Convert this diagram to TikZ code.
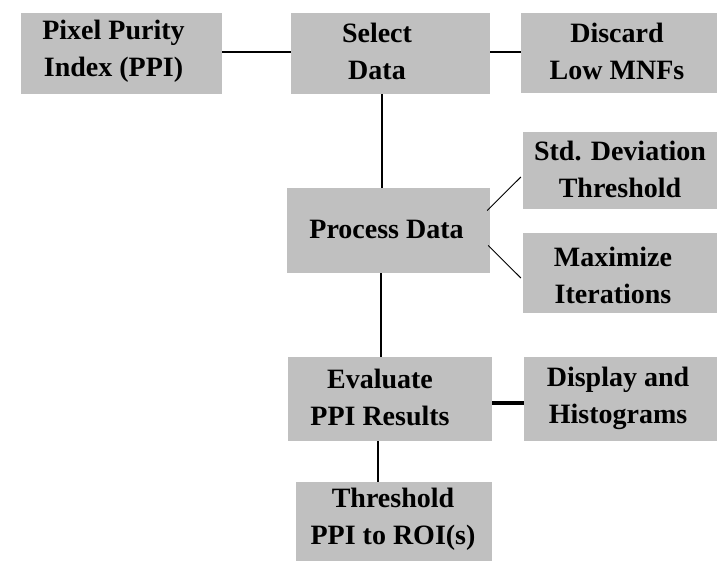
\documentclass[tikz,border=0pt]{standalone}
\usepackage{fontspec}
\setmainfont{Liberation Serif}
\usetikzlibrary{calc}
\definecolor{boxgray}{HTML}{C0C0C0}
\tikzset{
  box/.style={fill=boxgray, draw=none, inner sep=0pt},
  txt/.style={align=center, inner sep=0pt, font=\fontsize{28pt}{37pt}\selectfont\bfseries},
  conn/.style={line width=1.6pt, black},
  thinconn/.style={line width=1pt, black},
  thickconn/.style={line width=3.2pt, black}
}
\begin{document}
\begin{tikzpicture}[x=1pt,y=-1pt]
\useasboundingbox (0,0) rectangle (717,561);
% boxes
\node[box, minimum width=201pt, minimum height=81pt] (ppi) at (121.5,53.5) {};
\node[box, minimum width=199pt, minimum height=81pt] (sel) at (390.5,53.5) {};
\node[box, minimum width=196pt, minimum height=80pt] (disc) at (619,53) {};
\node[box, minimum width=194pt, minimum height=77pt] (std) at (620,170.5) {};
\node[box, minimum width=203pt, minimum height=85pt] (proc) at (388.5,230.5) {};
\node[box, minimum width=194pt, minimum height=80pt] (maxi) at (620,273) {};
\node[box, minimum width=204pt, minimum height=84pt] (eval) at (390,399) {};
\node[box, minimum width=193pt, minimum height=84pt] (disp) at (620.5,399) {};
\node[box, minimum width=196pt, minimum height=79pt] (thr) at (394,521.5) {};
% texts
\node[txt] (ppit) at (113.5,51) {Pixel Purity\\Index (PPI)};
\node[txt] (selt) at (377,51) {Select\\Data};
\node[txt] (disct) at (617,51) {Discard\\Low MNFs};
\node[txt] (stdt) at (620,169) {Std. Deviation\\Threshold};
\node[txt] (proct) at (386.5,229) {Process Data};
\node[txt] (maxit) at (613,275) {Maximize\\Iterations};
\node[txt] (evalt) at (380,397) {Evaluate\\PPI Results};
\node[txt] (dispt) at (618,398) {Display and\\Histograms};
\node[txt] (thrt) at (393,519) {Threshold\\PPI to ROI(s)};
% helper coordinates
\coordinate (vxa) at (382,0);
\coordinate (vxb) at (381,0);
\coordinate (vxc) at (378,0);
\coordinate (hya) at (0,52);
\coordinate (hyb) at (0,403);
% connectors
\draw[conn] (ppi.east |- hya) -- (sel.west |- hya);
\draw[conn] (sel.east |- hya) -- (disc.west |- hya);
\draw[conn] (sel.south -| vxa) -- (proc.north -| vxa);
\draw[conn] (proc.south -| vxb) -- (eval.north -| vxb);
\draw[conn] (eval.south -| vxc) -- (thr.north -| vxc);
\draw[thickconn] (eval.east |- hyb) -- (disp.west |- hyb);
\draw[thinconn] ($(proc.east)+(-3,-20)$) -- ($(std.west)+(-2,6.5)$);
\draw[thinconn] ($(proc.east)+(-2,15)$) -- ($(maxi.west)+(-2,5)$);
\end{tikzpicture}
\end{document}
